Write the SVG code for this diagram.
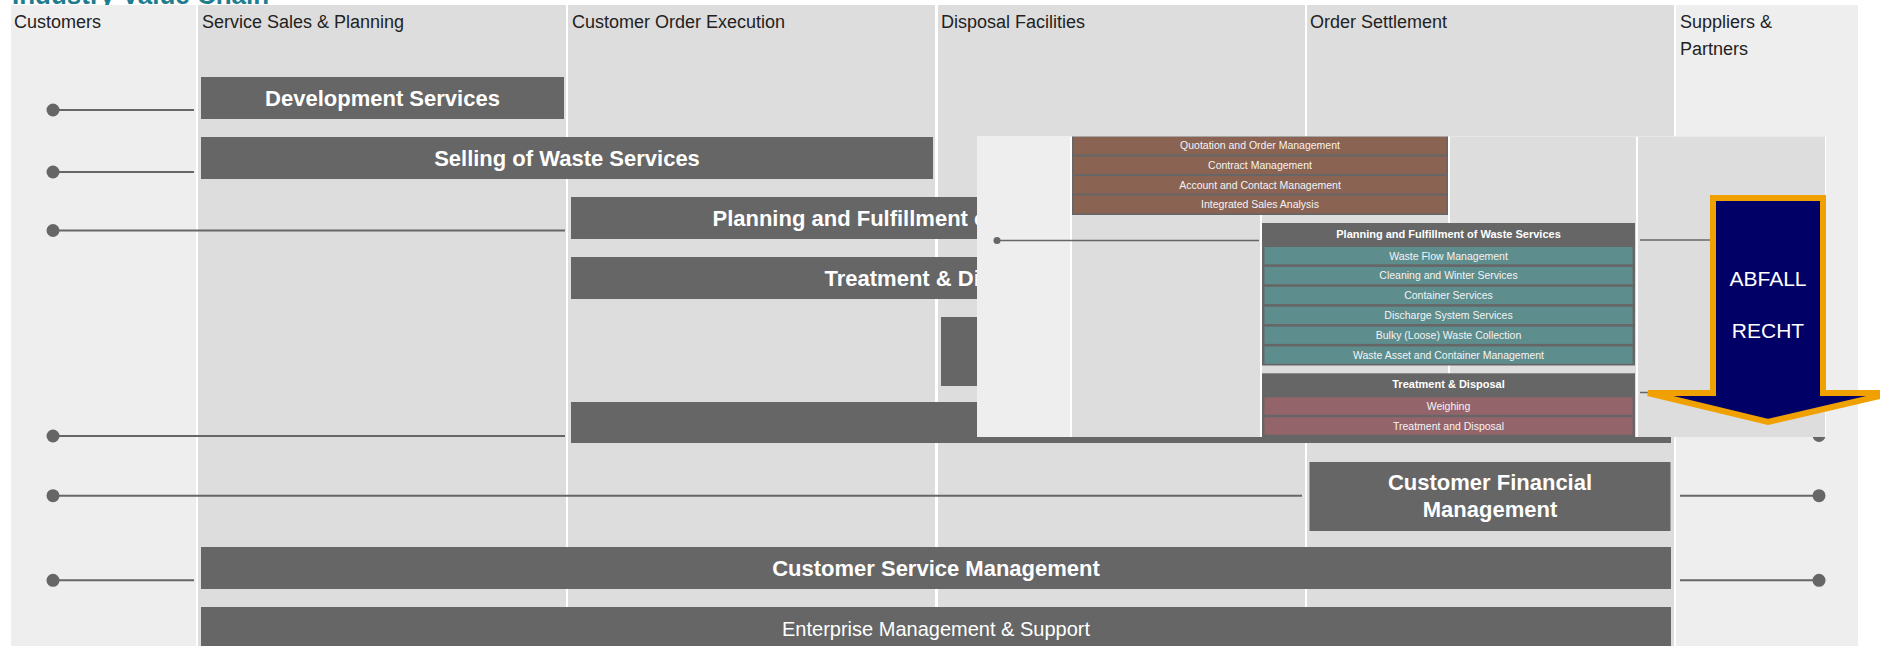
<svg xmlns="http://www.w3.org/2000/svg" width="1880" height="646" viewBox="0 0 1880 646">
<style>
.title{font:bold 26px "Liberation Sans",Arial,sans-serif;fill:#1f7d8f}
.ce{fill:#eeeeee}
.cm{fill:#dddddd}
.hdr{font:18px "Liberation Sans",Arial,sans-serif;fill:#222}
.bar{fill:#666666}
.bt{font:bold 22px "Liberation Sans",Arial,sans-serif;fill:#ffffff;text-anchor:middle}
.btn{font:20px "Liberation Sans",Arial,sans-serif;fill:#ffffff;text-anchor:middle}
.conn{stroke:#666666;stroke-width:2;fill:none}
.iconn{stroke:#666666;stroke-width:1.3;fill:none}
.ibox{fill:#666666}
.brown{fill:#8a6353}
.teal{fill:#5e8d8e}
.mauve{fill:#94646b}
.it{font:10.5px "Liberation Sans",Arial,sans-serif;fill:#f4f4f4;text-anchor:middle}
.ih{font:bold 11px "Liberation Sans",Arial,sans-serif;fill:#ffffff;text-anchor:middle}
.arrowt{font:21px "Liberation Sans",Arial,sans-serif;fill:#ffffff;text-anchor:middle}
</style>
<defs>
<marker id="dot" viewBox="0 0 14 14" refX="7" refY="7" markerWidth="14" markerHeight="14" markerUnits="userSpaceOnUse"><circle cx="7" cy="7" r="6.5" fill="#666666"/></marker>
<marker id="sdot" viewBox="0 0 8 8" refX="4" refY="4" markerWidth="8" markerHeight="8" markerUnits="userSpaceOnUse"><circle cx="4" cy="4" r="3.5" fill="#666666"/></marker>
</defs>
<rect x="0" y="0" width="1880" height="646" fill="#ffffff"/>
<text class="title" x="12" y="4">Industry Value Chain</text>
<g id="columns">
<rect class="ce" x="11" y="5" width="185" height="641"/>
<rect class="cm" x="198" y="5" width="368" height="641"/>
<rect class="cm" x="568" y="5" width="367" height="641"/>
<rect class="cm" x="938" y="5" width="367" height="641"/>
<rect class="cm" x="1307" y="5" width="367" height="641"/>
<rect class="ce" x="1676" y="5" width="182" height="641"/>
<text class="hdr" x="14" y="28">Customers</text>
<text class="hdr" x="202" y="28">Service Sales &amp; Planning</text>
<text class="hdr" x="572" y="28">Customer Order Execution</text>
<text class="hdr" x="941" y="28">Disposal Facilities</text>
<text class="hdr" x="1310" y="28">Order Settlement</text>
<text class="hdr" x="1680" y="28">Suppliers &amp;</text>
<text class="hdr" x="1680" y="55">Partners</text>
</g>
<g id="connectors">
<line class="conn" x1="53" y1="110" x2="194" y2="110" marker-start="url(#dot)"/>
<line class="conn" x1="53" y1="172" x2="194" y2="172" marker-start="url(#dot)"/>
<line class="conn" x1="53" y1="230.5" x2="565" y2="230.5" marker-start="url(#dot)"/>
<line class="conn" x1="53" y1="436" x2="565" y2="436" marker-start="url(#dot)"/>
<line class="conn" x1="53" y1="495.7" x2="1302" y2="495.7" marker-start="url(#dot)"/>
<line class="conn" x1="53" y1="580.3" x2="194" y2="580.3" marker-start="url(#dot)"/>
<line class="conn" x1="1680" y1="230" x2="1819" y2="230" marker-end="url(#dot)"/>
<line class="conn" x1="1680" y1="290" x2="1819" y2="290" marker-end="url(#dot)"/>
<line class="conn" x1="1680" y1="435.5" x2="1819" y2="435.5" marker-end="url(#dot)"/>
<line class="conn" x1="1680" y1="495.7" x2="1819" y2="495.7" marker-end="url(#dot)"/>
<line class="conn" x1="1680" y1="580.3" x2="1819" y2="580.3" marker-end="url(#dot)"/>
</g>
<g id="development-services">
<rect class="bar" x="201" y="77" width="363" height="42"/>
<text class="bt" x="382.5" y="105.7">Development Services</text>
</g>
<g id="selling-waste-services">
<rect class="bar" x="201" y="137" width="732" height="42"/>
<text class="bt" x="567" y="165.7">Selling of Waste Services</text>
</g>
<g id="planning-fulfillment">
<rect class="bar" x="571" y="197" width="732" height="42"/>
<text class="bt" x="937" y="225.7">Planning and Fulfillment of Waste Services</text>
</g>
<g id="treatment-disposal">
<rect class="bar" x="571" y="257" width="732" height="42"/>
<text class="bt" x="937" y="285.7">Treatment &amp; Disposal</text>
</g>
<g id="disposal-facility-box">
<rect class="bar" x="941" y="317" width="362" height="69"/>
</g>
<g id="order-bar">
<rect class="bar" x="571" y="402" width="1100" height="41"/>
</g>
<g id="customer-financial-management">
<rect class="bar" x="1309.5" y="462" width="361" height="69"/>
<text class="bt" x="1490" y="490">Customer Financial</text>
<text class="bt" x="1490" y="517">Management</text>
</g>
<g id="customer-service-management">
<rect class="bar" x="201" y="547" width="1470" height="42"/>
<text class="bt" x="936" y="575.7">Customer Service Management</text>
</g>
<g id="enterprise-management">
<rect class="bar" x="201" y="607" width="1470" height="50"/>
<text class="btn" x="936" y="636">Enterprise Management &amp; Support</text>
</g>
<g id="inset">
<rect x="977" y="136.5" width="849" height="300.5" fill="#ffffff"/>
<rect class="ce" x="977" y="136.5" width="93" height="300.5"/>
<rect class="cm" x="1072" y="136.5" width="188" height="300.5"/>
<rect class="cm" x="1262" y="136.5" width="186" height="300.5"/>
<rect class="cm" x="1450" y="136.5" width="186" height="300.5"/>
<rect class="cm" x="1638" y="136.5" width="187" height="300.5"/>
<g id="inset-sales">
<rect class="ibox" x="1072" y="136.5" width="376" height="78.5"/>
<rect class="brown" x="1073.5" y="137" width="373" height="17.3"/>
<rect class="brown" x="1073.5" y="156.5" width="373" height="17.5"/>
<rect class="brown" x="1073.5" y="176" width="373" height="17.5"/>
<rect class="brown" x="1073.5" y="195.5" width="373" height="17.8"/>
<text class="it" x="1260" y="149.3">Quotation and Order Management</text>
<text class="it" x="1260" y="169">Contract Management</text>
<text class="it" x="1260" y="188.5">Account and Contact Management</text>
<text class="it" x="1260" y="208.2">Integrated Sales Analysis</text>
</g>
<g id="inset-planning">
<rect class="ibox" x="1262" y="223" width="373" height="142.5"/>
<text class="ih" x="1448.5" y="238.3">Planning and Fulfillment of Waste Services</text>
<rect class="teal" x="1264.5" y="247" width="368" height="17.3"/>
<rect class="teal" x="1264.5" y="266.9" width="368" height="17.3"/>
<rect class="teal" x="1264.5" y="286.8" width="368" height="17.3"/>
<rect class="teal" x="1264.5" y="306.7" width="368" height="17.3"/>
<rect class="teal" x="1264.5" y="326.6" width="368" height="17.3"/>
<rect class="teal" x="1264.5" y="346.5" width="368" height="17.3"/>
<text class="it" x="1448.5" y="259.5">Waste Flow Management</text>
<text class="it" x="1448.5" y="279.4">Cleaning and Winter Services</text>
<text class="it" x="1448.5" y="299.3">Container Services</text>
<text class="it" x="1448.5" y="319.2">Discharge System Services</text>
<text class="it" x="1448.5" y="339.1">Bulky (Loose) Waste Collection</text>
<text class="it" x="1448.5" y="359">Waste Asset and Container Management</text>
</g>
<g id="inset-treatment">
<rect class="ibox" x="1262" y="373.3" width="373" height="63.7"/>
<text class="ih" x="1448.5" y="388.3">Treatment &amp; Disposal</text>
<rect class="mauve" x="1264.5" y="397.3" width="368" height="17.5"/>
<rect class="mauve" x="1264.5" y="417.2" width="368" height="17.5"/>
<text class="it" x="1448.5" y="409.8">Weighing</text>
<text class="it" x="1448.5" y="429.7">Treatment and Disposal</text>
</g>
<g id="inset-connectors">
<line class="iconn" x1="997" y1="240.5" x2="1259" y2="240.5" marker-start="url(#sdot)"/>
<line class="iconn" x1="1640" y1="240" x2="1716" y2="240"/>
<line class="iconn" x1="1640" y1="392.5" x2="1700" y2="392.5"/>
</g>
</g>
<g id="abfall-recht">
<polygon points="1713,198 1823,198 1823,393 1892,393 1768,422 1648,393 1713,393" fill="#000066" stroke="#f0a000" stroke-width="6"/>
<text class="arrowt" x="1768" y="286">ABFALL</text>
<text class="arrowt" x="1768" y="338">RECHT</text>
</g>
</svg>
